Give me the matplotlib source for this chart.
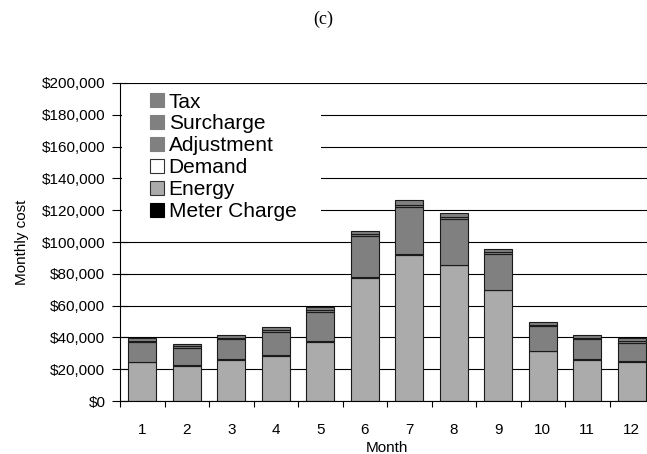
import matplotlib
matplotlib.use("Agg")
import matplotlib.pyplot as plt
from matplotlib.patches import Rectangle, Patch
from matplotlib.ticker import FuncFormatter

plt.rcParams['font.family'] = ['Liberation Sans', 'DejaVu Sans']

# monthly bill components, dollars
months = [str(m) for m in range(1, 13)]
meter_charge = [100, 100, 100, 100, 100, 100, 100, 100, 100, 100, 100, 100]
energy = [24300, 22100, 25500, 28300, 37100, 77400, 91900, 85400, 69400, 31200, 25500, 24700]
demand = [300, 300, 600, 300, 300, 300, 300, 300, 300, 300, 700, 300]
adjustment = [12400, 11000, 13000, 14700, 18500, 26100, 29400, 28600, 22500, 15300, 12500, 11500]
surcharge = [900, 800, 700, 1000, 1000, 1000, 1600, 1400, 1200, 1000, 800, 1100]
tax = [1800, 1700, 1400, 2100, 2100, 2100, 3200, 2700, 2400, 2000, 1700, 2100]

series = [("Meter Charge", meter_charge, "black"),
          ("Energy", energy, "#ababab"),
          ("Demand", demand, "white"),
          ("Adjustment", adjustment, "#808080"),
          ("Surcharge", surcharge, "#808080"),
          ("Tax", tax, "#808080")]

W, H = 647, 454
fig = plt.figure(figsize=(W / 100, H / 100), dpi=100)
ax = fig.add_axes([120 / W, 53 / H, 534 / W, 318 / H])

x = list(range(1, 13))
bottom = [0] * 12
for name, vals, col in series:
    ax.bar(x, vals, width=0.63, bottom=bottom, color=col, edgecolor="#1a1a1a",
           linewidth=0.8, zorder=2)
    bottom = [b + v for b, v in zip(bottom, vals)]

ax.set_xlim(0.5, 12.5)
ax.set_ylim(0, 200000)
ax.set_yticks(range(0, 200001, 20000))
ax.yaxis.set_major_formatter(FuncFormatter(lambda v, p: "${:,.0f}".format(v)))
ax.grid(axis="y", color="black", linewidth=0.8)
ax.set_axisbelow(True)

ax.set_xticks(x)
ax.set_xticklabels(months)
ax.set_xticks([i + 0.5 for i in range(0, 13)], minor=True)
ax.tick_params(axis="x", which="major", length=0, pad=16, labelsize=11)
ax.tick_params(axis="x", which="minor", direction="out", length=4.5, width=0.8)
ax.tick_params(axis="y", direction="inout", length=11, width=0.8, pad=5, labelsize=11)

for s in ["top", "right"]:
    ax.spines[s].set_visible(False)
for s in ["left", "bottom"]:
    ax.spines[s].set_linewidth(0.8)

ax.set_xlabel("Month", fontsize=11, labelpad=3)
ax.set_ylabel("Monthly cost", fontsize=11)
ax.yaxis.set_label_coords(-91 / 534, 0.5)

# white box behind the legend hides the gridlines
ax.add_patch(Rectangle((0.003, 0.55), 0.373, 0.425, transform=ax.transAxes,
                       facecolor="white", edgecolor="none", zorder=1))

handles = [Patch(facecolor=c, edgecolor=("#333333" if n in ("Energy", "Demand") else c), linewidth=0.8,
                 label=n) for n, v, c in series][::-1]
ax.legend(handles=handles, loc="upper left", bbox_to_anchor=(30 / 534, 0.97),
          frameon=False, fontsize=15, handlelength=0.65, handleheight=0.65,
          handletextpad=0.25, labelspacing=0.14, borderpad=0, borderaxespad=0)

fig.text(0.5, 1 - 19 / H, "(c)", ha="center", va="center",
         family=["Liberation Serif", "DejaVu Serif"], fontsize=13)

fig.savefig("out.png", dpi=100)
